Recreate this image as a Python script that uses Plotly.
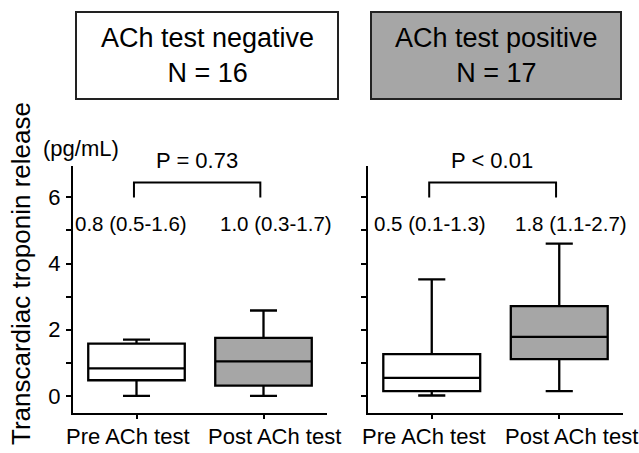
import plotly.graph_objects as go

# ---- data ----
categories = ["Pre ACh test", "Post ACh test"]
panel_titles = ["ACh test negative<br>N = 16", "ACh test positive<br>N = 17"]

# negative group: [pre, post]
neg_lower = [0.0, 0.0]
neg_q1 = [0.47, 0.31]
neg_median = [0.83, 1.04]
neg_q3 = [1.58, 1.75]
neg_upper = [1.70, 2.58]

# positive group: [pre, post]
pos_lower = [0.01, 0.14]
pos_q1 = [0.14, 1.11]
pos_median = [0.54, 1.78]
pos_q3 = [1.26, 2.71]
pos_upper = [3.52, 4.60]

neg_labels = ["0.8 (0.5-1.6)", "1.0 (0.3-1.7)"]
pos_labels = ["0.5 (0.1-1.3)", "1.8 (1.1-2.7)"]
p_values = ["P = 0.73", "P < 0.01"]

y_tickvals = [0, 1, 2, 3, 4, 5, 6]
y_ticktext = ["0", "", "2", "", "4", "", "6"]

FONT = "Liberation Sans, Arial, sans-serif"
GRAY = "#a6a6a6"
fills = ["white", GRAY]
W, H = 639, 453

fig = go.Figure()

groups = [
    (neg_lower, neg_q1, neg_median, neg_q3, neg_upper, "x", "y"),
    (pos_lower, pos_q1, pos_median, pos_q3, pos_upper, "x2", "y2"),
]
for lo, q1, med, q3, hi, xa, ya in groups:
    for i in range(len(categories)):
        fig.add_trace(go.Box(
            x=[i], q1=[q1[i]], median=[med[i]], q3=[q3[i]],
            lowerfence=[lo[i]], upperfence=[hi[i]],
            width=0.76, whiskerwidth=0.28,
            fillcolor=fills[i], line=dict(color="black", width=2.3),
            boxpoints=False, xaxis=xa, yaxis=ya, showlegend=False,
            hoverinfo="skip",
        ))

x_dom = [[73 / W, 327 / W], [368 / W, 623 / W]]
y_dom = [(H - 413) / H, (H - 166) / H]

xaxis_common = dict(
    range=[-0.5, 1.5], tickvals=[0, 1], ticktext=["", ""],
    showline=True, linecolor="black", linewidth=2, ticks="outside",
    ticklen=4, tickwidth=1.5, tickcolor="black", showgrid=False, zeroline=False,
    fixedrange=True,
)
yaxis_common = dict(
    range=[-0.52, 6.95], tickvals=y_tickvals,
    showline=True, linecolor="black", linewidth=2, ticks="outside",
    ticklen=5, tickwidth=1.5, tickcolor="black", showgrid=False, zeroline=False,
    tickfont=dict(size=22, color="black", family=FONT), fixedrange=True,
)

fig.update_layout(
    width=W, height=H,
    margin=dict(l=0, r=0, t=0, b=0),
    paper_bgcolor="white", plot_bgcolor="white",
    font=dict(family=FONT, color="black", size=21),
    xaxis=dict(domain=x_dom[0], anchor="y", **xaxis_common),
    xaxis2=dict(domain=x_dom[1], anchor="y2", **xaxis_common),
    yaxis=dict(domain=y_dom, anchor="x", ticktext=y_ticktext,
               ticklabelstandoff=1, **yaxis_common),
    yaxis2=dict(domain=y_dom, anchor="x2", ticktext=[""] * len(y_tickvals),
                **yaxis_common),
)

shapes = []
annotations = []

# header boxes
header_boxes = [(76, 338), (371, 621)]
for k, (x0, x1) in enumerate(header_boxes):
    shapes.append(dict(type="rect", xref="paper", yref="paper",
                       x0=x0 / W, x1=x1 / W, y0=(H - 99) / H, y1=(H - 12) / H,
                       line=dict(color="#222222", width=2), fillcolor=fills[k]))
    annotations.append(dict(text=panel_titles[k], xref="paper", yref="paper",
                            x=(x0 + x1) / 2 / W, y=(H - 56) / H,
                            showarrow=False, font=dict(size=27, family=FONT, color="black"),
                            xanchor="center", yanchor="middle"))

# category labels (slightly spread apart, as in the reference)
cat_label_px = [[128, 274], [424, 571]]
for k in range(2):
    for i in range(len(categories)):
        annotations.append(dict(text=categories[i], xref="paper", yref="paper",
                                x=cat_label_px[k][i] / W, y=(H - 436) / H,
                                showarrow=False, font=dict(size=22, family=FONT),
                                xanchor="center", yanchor="middle"))

# brackets + p-values + median labels
label_sets = [neg_labels, pos_labels]
label_dx = [[-0.04, 0.095], [-0.015, 0.095]]
p_px = [197, 492]
for k, (xa, ya) in enumerate([("x", "y"), ("x2", "y2")]):
    bx0, bx1 = -0.02, 0.975
    shapes.append(dict(type="path", xref=xa, yref=ya,
                       path=f"M {bx0} 6.0 L {bx0} 6.45 L {bx1} 6.45 L {bx1} 6.0",
                       line=dict(color="black", width=2)))
    annotations.append(dict(text=p_values[k], xref="paper", yref="paper",
                            x=p_px[k] / W, y=(H - 160) / H,
                            showarrow=False, font=dict(size=22, family=FONT),
                            xanchor="center", yanchor="middle"))
    for i in range(len(categories)):
        annotations.append(dict(text=label_sets[k][i], xref=xa, yref=ya,
                                x=i + label_dx[k][i], y=5.2, showarrow=False,
                                font=dict(size=20.5, family=FONT),
                                xanchor="center", yanchor="middle"))

annotations.append(dict(text="(pg/mL)", xref="paper", yref="paper",
                        x=81 / W, y=(H - 148) / H, showarrow=False,
                        font=dict(size=22, family=FONT), xanchor="center", yanchor="middle"))
annotations.append(dict(text="Transcardiac troponin release", xref="paper", yref="paper",
                        x=21 / W, y=(H - 274) / H, showarrow=False, textangle=-90,
                        font=dict(size=26, family=FONT), xanchor="center", yanchor="middle"))

fig.update_layout(shapes=shapes, annotations=annotations)
fig.write_html("out.html")
